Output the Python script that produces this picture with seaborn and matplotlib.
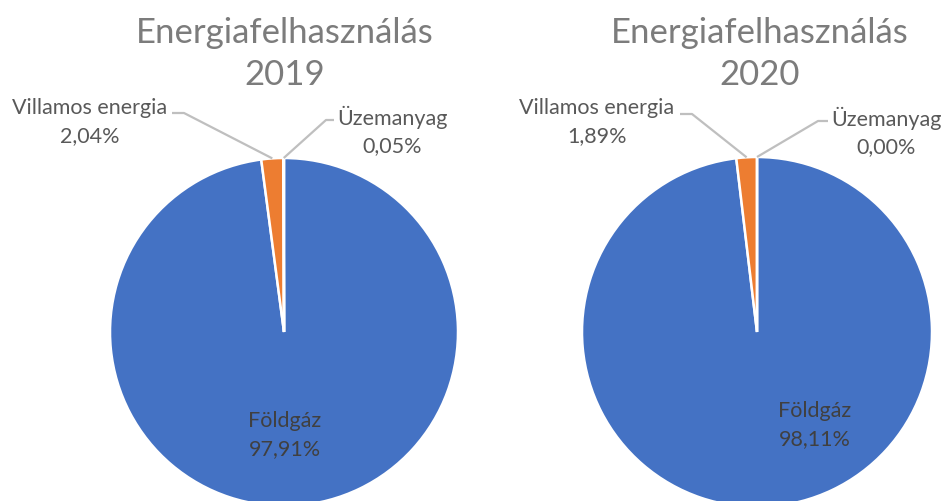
import numpy as np
import matplotlib.pyplot as plt
import seaborn as sns

sns.set_theme(style="white")
plt.rcParams["font.family"] = ["Lato", "DejaVu Sans"]

# ── Data ────────────────────────────────────────────────────
categories = ["Földgáz", "Villamos energia", "Üzemanyag"]
years = ["2019", "2020"]
shares_2019 = [97.91, 2.04, 0.05]
shares_2020 = [98.11, 1.89, 0.00]
title_text = "Energiafelhasználás"

COLORS = ["#4472C4", "#ED7D31", "#A5A5A5"]
TITLE_C = "#7C7C7C"
LABEL_C = "#595959"
INNER_C = "#404040"
LINE_C = "#BFBFBF"

W, H = 947, 501
fig = plt.figure(figsize=(W / 100, H / 100), dpi=100)
ax = fig.add_axes([0, 0, 1, 1])


def fy(py):
    # pixel row (from top) -> axes y
    return H - py


def fmt(v):
    return f"{v:.2f}".replace(".", ",") + "%"


# layout in pixels from the top-left corner
layout = [
    dict(cx=284, cy=332, r=174, tx=285, big=(285, 435),
         v_txt=(90, 122), v_start=(172, 113), v_elbow=(184, 113),
         u_txt=(392, 131), u_start=(334, 120), u_elbow=(326, 120)),
    dict(cx=757, cy=332, r=175, tx=760, big=(815, 425),
         v_txt=(597, 122), v_start=(680, 114), v_elbow=(692, 114),
         u_txt=(886, 132), u_start=(828, 121), u_elbow=(818, 121)),
]

for year, shares, L in zip(years, [shares_2019, shares_2020], layout):
    wedges, _ = ax.pie(
        shares,
        colors=COLORS,
        startangle=90,
        counterclock=False,
        center=(L["cx"], fy(L["cy"])),
        radius=L["r"],
        wedgeprops=dict(edgecolor="white", linewidth=1.8),
        frame=True,
    )

    ax.text(L["tx"], fy(33), title_text, ha="center", va="center",
            fontsize=25, color=TITLE_C)
    ax.text(L["tx"], fy(75), year, ha="center", va="center",
            fontsize=25, color=TITLE_C)

    # Földgáz label inside the pie
    ax.text(L["big"][0], fy(L["big"][1]), f"{categories[0]}\n{fmt(shares[0])}",
            ha="center", va="center", fontsize=15.5, color=INNER_C,
            linespacing=1.45)

    # outside labels with leader lines
    for i, key in [(1, "v"), (2, "u")]:
        w = wedges[i]
        mid = np.deg2rad((w.theta1 + w.theta2) / 2)
        px = L["cx"] + L["r"] * np.cos(mid)
        py = fy(L["cy"]) + L["r"] * np.sin(mid)
        sx, sy = L[key + "_start"]
        ex, ey = L[key + "_elbow"]
        ax.plot([sx, ex, px], [fy(sy), fy(ey), py], color=LINE_C, lw=1.6,
                solid_capstyle="butt", zorder=1)
        tx, ty = L[key + "_txt"]
        ax.text(tx, fy(ty), f"{categories[i]}\n{fmt(shares[i])}",
                ha="center", va="center", fontsize=15.5, color=LABEL_C,
                linespacing=1.45)

ax.set_xlim(0, W)
ax.set_ylim(0, H)
ax.set_aspect("equal")
ax.axis("off")

plt.savefig("out.png", dpi=100)
plt.close()
